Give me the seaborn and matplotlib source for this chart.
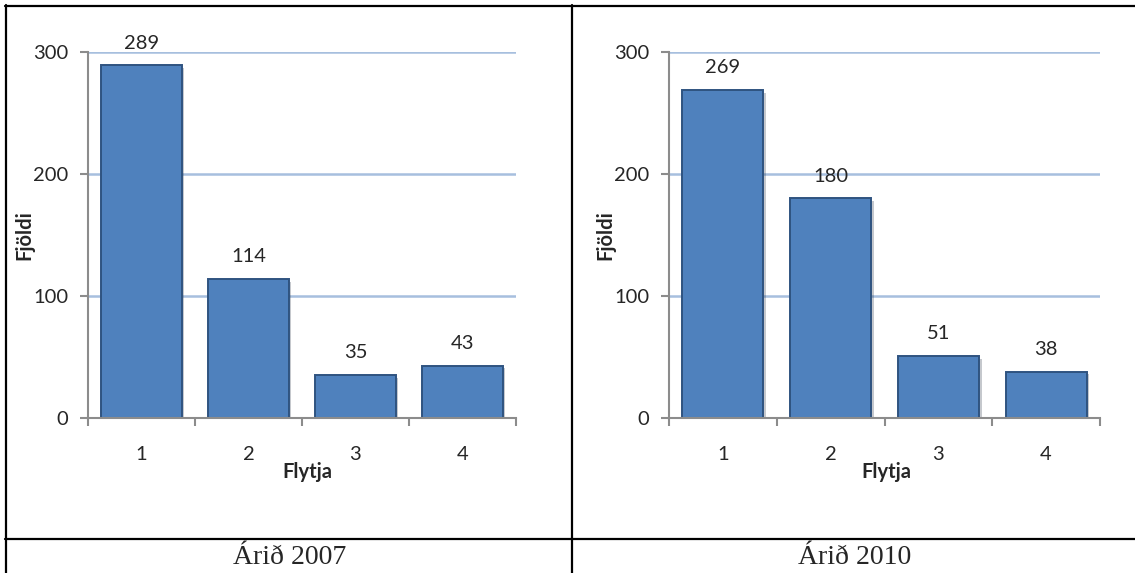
import numpy as np
import pandas as pd
import matplotlib
matplotlib.use("Agg")
import matplotlib.pyplot as plt
import matplotlib.patheffects as pe
from matplotlib.lines import Line2D
import seaborn as sns

# data
flytja = ["1", "2", "3", "4"]
fjoldi_2007 = [289, 114, 35, 43]
fjoldi_2010 = [269, 180, 51, 38]
ar_labels = ["Árið 2007", "Árið 2010"]

sns.set_style("white")
plt.rcParams['font.family'] = ['Lato', 'DejaVu Sans']

W, H = 1135, 573
fig = plt.figure(figsize=(W / 100, H / 100), dpi=100)

BAR = '#4F81BD'
EDGE = '#2F5380'
GRID = '#A7BFDE'
AXC = '#8C8C8C'
FS = 14.5


def px_axes(x0, x1, ytop, ybot):
    return fig.add_axes([x0 / W, 1 - ybot / H, (x1 - x0) / W, (ybot - ytop) / H])


panels = [
    (px_axes(88, 516, 52, 418), fjoldi_2007, 0.512),
    (px_axes(669, 1100, 52, 418), fjoldi_2010, 0.505),
]

for ax, vals, xlab_x in panels:
    df = pd.DataFrame({"Flytja": flytja, "Fjöldi": vals})
    sns.barplot(data=df, x="Flytja", y="Fjöldi", color=BAR, width=0.75,
                edgecolor=EDGE, linewidth=1.4, saturation=1, ax=ax)
    for bar in ax.patches:
        bar.set_path_effects([pe.SimplePatchShadow(offset=(2, -2), alpha=0.25), pe.Normal()])
    ax.set_ylim(0, 300)
    ax.set_xlim(-0.5, 3.5)
    ax.set_yticks([0, 100, 200, 300])
    for v in [100, 200, 300]:
        ax.axhline(v, color=GRID, lw=1.8, zorder=0)
    for sp in ['top', 'right']:
        ax.spines[sp].set_visible(False)
    for sp in ['left', 'bottom']:
        ax.spines[sp].set_color(AXC)
        ax.spines[sp].set_linewidth(1.5)
    # category boundary ticks on x axis, labels at centres
    ax.set_xticks(np.arange(-0.5, 4.0, 1.0), minor=True)
    ax.tick_params(axis='x', which='minor', bottom=True, length=6, width=1.5,
                   color=AXC, direction='out')
    ax.tick_params(axis='x', which='major', bottom=True, length=0, pad=20, labelsize=FS)
    ax.tick_params(axis='y', left=True, length=6, width=1.5, color=AXC,
                   direction='out', pad=8, labelsize=FS)
    ax.bar_label(ax.containers[0], padding=10, fontsize=FS)
    ax.set_xlabel("Flytja", fontsize=FS, fontweight='bold')
    ax.xaxis.set_label_coords(xlab_x, -0.12)
    ax.set_ylabel("Fjöldi", fontsize=FS, fontweight='bold')
    ax.yaxis.set_label_coords(-0.125, 0.5)

# table frame around the two charts
def hline(y, x0, x1):
    fig.add_artist(Line2D([x0 / W, x1 / W], [1 - y / H, 1 - y / H], color='black', lw=1.6))


def vline(x, y0, y1):
    fig.add_artist(Line2D([x / W, x / W], [1 - y0 / H, 1 - y1 / H], color='black', lw=1.6))


hline(6, 5, W)
hline(539, 5, W)
vline(6, 5, H)
vline(572, 5, H)

fig.text(290 / W, 1 - 557 / H, ar_labels[0], ha='center', va='center',
         fontsize=20, family=['Liberation Serif', 'DejaVu Serif'])
fig.text(855 / W, 1 - 557 / H, ar_labels[1], ha='center', va='center',
         fontsize=20, family=['Liberation Serif', 'DejaVu Serif'])

fig.savefig("out.png", dpi=100)
